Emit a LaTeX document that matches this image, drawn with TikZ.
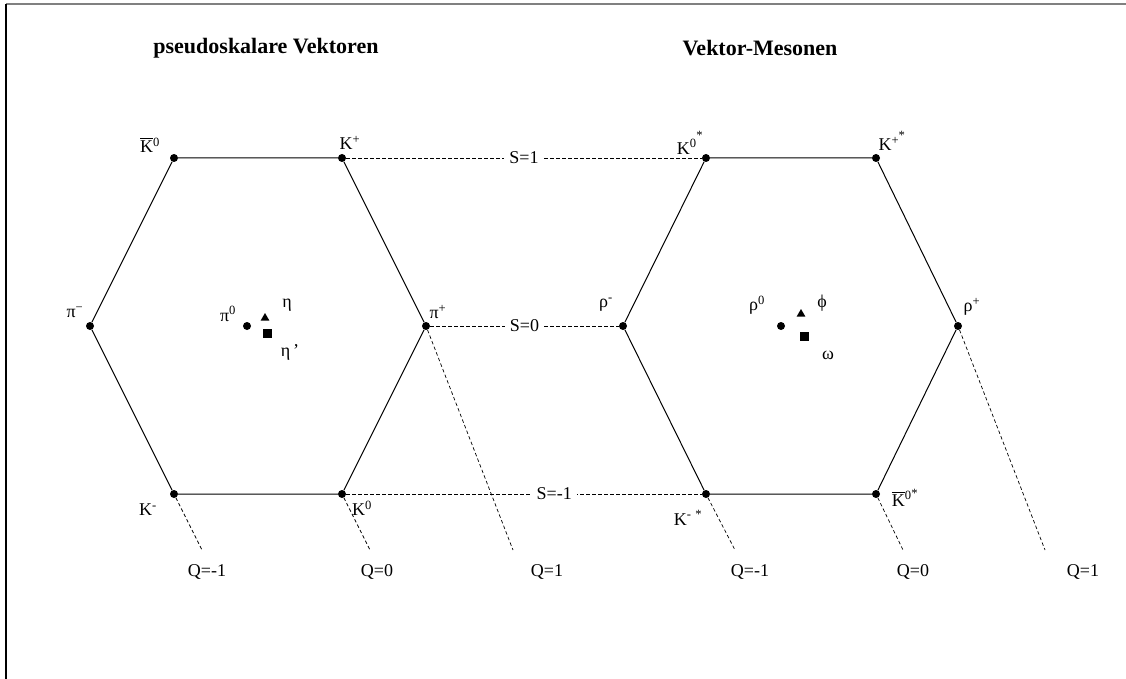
\documentclass[tikz,border=0pt]{standalone}
\usepackage{fontspec}
\setmainfont{Liberation Serif}
\usetikzlibrary{positioning,shapes.geometric}
\newcommand{\barK}{{\setbox0\hbox{K}\rlap{\rule[\dimexpr\ht0+2pt\relax]{\wd0}{0.7pt}}K}}
\tikzset{state/.style={circle,fill=black,inner sep=0pt,minimum size=8pt}, tri/.style={regular polygon,regular polygon sides=3,fill=black,inner sep=0pt,minimum size=10pt}, sq/.style={rectangle,fill=black,inner sep=0pt,minimum size=9pt}, hexline/.style={line width=1pt}, quant/.style={dash pattern=on 3.5pt off 2.5pt,line width=0.7pt}, lbl/.style={font=\fontsize{18}{20}\selectfont,inner sep=1pt}, sval/.style={lbl,fill=white,inner xsep=5pt}, heading/.style={font=\fontsize{22}{24}\selectfont\bfseries}}

\begin{document}
\begin{tikzpicture}[x=1pt,y=-1pt]
\useasboundingbox (0,0) rectangle (1126,679);
\draw[gray,line width=1.2pt] (6,4) -- (1126,4);
\draw[line width=1.2pt] (6,4) -- (6,679);
\node[heading] (tps) at (266,48) {pseudoskalare Vektoren};
\node[heading] (tvm) at (760,48) {Vektor-Mesonen};
% pseudoskalare Mesonen
\node[state] (kb0) at (174,158) {};
\node[state] (kp) at (342,158) {};
\node[state] (pim) at (90,326) {};
\node[state] (pip) at (426,326) {};
\node[state] (km) at (174,494) {};
\node[state] (k0) at (342,494) {};
\node[state] (pi0) at (247,326) {};
\node[tri] (eta) at (265,318) {};
\node[sq] (etap) at (267,333) {};
\node[lbl] (lkb0) at (150,145) {\barK\textsuperscript{0}};
\node[lbl] (lkp) at (350,143) {K\textsuperscript{+}};
\node[lbl] (lpim) at (75,312) {π\textsuperscript{−}};
\node[lbl] (lpip) at (438,312) {π\textsuperscript{+}};
\node[lbl] (lkm) at (148,510) {K\textsuperscript{-}};
\node[lbl] (lk0) at (362,508) {K\textsuperscript{0}};
\node[lbl] (lpi0) at (228,314) {π\textsuperscript{0}};
\node[lbl] (leta) at (287,305) {η};
\node[lbl] (letap) at (290,352) {η\,’};
\draw[hexline] (kb0) -- (kp) -- (pip) -- (k0) -- (km) -- (pim) -- (kb0);
% Vektor-Mesonen
\node[state] (ks0) at (706,158) {};
\node[state] (ksp) at (876,158) {};
\node[state] (rhom) at (623,326) {};
\node[state] (rhop) at (958,326) {};
\node[state] (ksm) at (706,494) {};
\node[state] (ksb0) at (876,494) {};
\node[state] (rho0) at (781,326) {};
\node[tri] (phi) at (801,314) {};
\node[sq] (omega) at (804,336) {};
\node[lbl] (lks0) at (690,143) {K\textsuperscript{0\raisebox{8pt}{*}}};
\node[lbl] (lksp) at (892,141) {K\textsuperscript{+\raisebox{5pt}{*}}};
\node[lbl] (lksm) at (688,518) {K\textsuperscript{-\,\,*}};
\node[lbl] (lksb0) at (905,498) {\barK\textsuperscript{0\raisebox{2pt}{*}}};
\node[lbl] (lrhom) at (606,305) {ρ\textsuperscript{-}};
\node[lbl] (lrhop) at (972,307) {ρ\textsuperscript{+}};
\node[lbl] (lrho0) at (757,305) {ρ\textsuperscript{0}};
\node[lbl] (lphi) at (822,303) {ϕ};
\node[lbl] (lomega) at (828,355) {ω};
\draw[hexline] (ks0) -- (ksp) -- (rhop) -- (ksb0) -- (ksm) -- (rhom) -- (ks0);
% Strangeness
\draw[quant] (kp) -- node[sval] (s1) {S=1} (ks0);
\draw[quant] (pip) -- node[sval] (s0) {S=0} (rhom);
\draw[quant] (k0) -- node[sval,pos=0.585] (sm1) {S=-1} (ksm);
% Ladung
\coordinate (qa) at (202,550);
\coordinate (qb) at (370,550);
\coordinate (qc) at (513,550);
\coordinate (qd) at (735,550);
\coordinate (qe) at (903,550);
\coordinate (qf) at (1045,550);
\draw[quant] (km) -- (qa);
\draw[quant] (k0) -- (qb);
\draw[quant] (pip) -- (qc);
\draw[quant] (ksm) -- (qd);
\draw[quant] (ksb0) -- (qe);
\draw[quant] (rhop) -- (qf);
\node[lbl] (lqa) at (207,572) {Q=-1};
\node[lbl] (lqb) at (377,572) {Q=0};
\node[lbl] (lqc) at (547,572) {Q=1};
\node[lbl] (lqd) at (750,572) {Q=-1};
\node[lbl] (lqe) at (913,572) {Q=0};
\node[lbl] (lqf) at (1083,572) {Q=1};
\end{tikzpicture}
\end{document}
